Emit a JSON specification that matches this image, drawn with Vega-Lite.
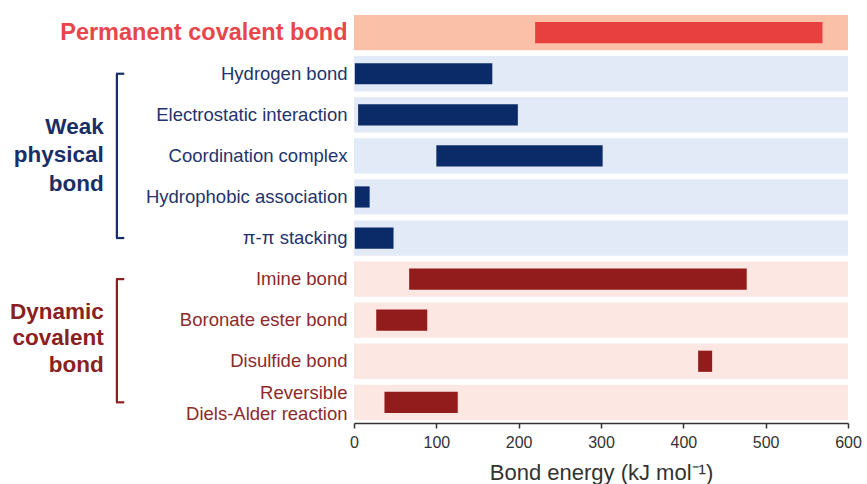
{
  "$schema": "https://vega.github.io/schema/vega-lite/v6.json",
  "width": 494,
  "height": 405,
  "autosize": {"type": "none"},
  "padding": {"left": 354, "top": 15, "right": 19, "bottom": 64},
  "background": "white",
  "config": {
    "font": "Liberation Sans",
    "view": {"stroke": null}
  },
  "datasets": {
    "bonds": [
      {"bond": "Permanent covalent bond", "group": "Permanent", "low": 220, "high": 569},
      {"bond": "Hydrogen bond", "group": "Weak", "low": 1, "high": 168},
      {"bond": "Electrostatic interaction", "group": "Weak", "low": 5, "high": 199},
      {"bond": "Coordination complex", "group": "Weak", "low": 100, "high": 302},
      {"bond": "Hydrophobic association", "group": "Weak", "low": 1, "high": 19},
      {"bond": "π-π stacking", "group": "Weak", "low": 1, "high": 48},
      {"bond": "Imine bond", "group": "Dynamic", "low": 67, "high": 477},
      {"bond": "Boronate ester bond", "group": "Dynamic", "low": 27, "high": 89},
      {"bond": "Disulfide bond", "group": "Dynamic", "low": 418, "high": 435},
      {"bond": "Reversible Diels-Alder reaction", "group": "Dynamic", "low": 37, "high": 126}
    ],
    "groups": [
      {"group": "Weak", "first": "Hydrogen bond", "last": "π-π stacking"},
      {"group": "Dynamic", "first": "Imine bond", "last": "Reversible Diels-Alder reaction"}
    ]
  },
  "layer": [
    {
      "data": {"name": "bonds"},
      "mark": {"type": "bar", "opacity": 1},
      "encoding": {
        "y": {
          "field": "bond", "type": "nominal",
          "scale": {
            "domain": ["Permanent covalent bond", "Hydrogen bond", "Electrostatic interaction", "Coordination complex", "Hydrophobic association", "π-π stacking", "Imine bond", "Boronate ester bond", "Disulfide bond", "Reversible Diels-Alder reaction"],
            "paddingInner": 0.14, "paddingOuter": 0
          },
          "axis": {
            "title": null, "domain": false, "ticks": false, "labelPadding": 7, "labelLimit": 400,
            "labelLineHeight": 21,
            "labelExpr": "datum.label == 'Reversible Diels-Alder reaction' ? ['Reversible', 'Diels-Alder reaction'] : datum.label",
            "labelOffset": {"condition": {"test": "datum.value == 'Reversible Diels-Alder reaction'", "value": -9}, "value": 0},
            "labelFontSize": {"condition": {"test": "datum.value == 'Permanent covalent bond'", "value": 23.5}, "value": 18.5},
            "labelFontWeight": {"condition": {"test": "datum.value == 'Permanent covalent bond'", "value": "bold"}, "value": "normal"},
            "labelColor": {"condition": [
              {"test": "datum.value == 'Permanent covalent bond'", "value": "#e8464a"},
              {"test": "indexof(['Imine bond','Boronate ester bond','Disulfide bond','Reversible Diels-Alder reaction'], datum.value) >= 0", "value": "#8d2a2a"}
            ], "value": "#23346c"}
          }
        },
        "x": {
          "datum": 0, "type": "quantitative",
          "scale": {"domain": [0, 600], "nice": false, "zero": false},
          "axis": {
            "values": [0, 100, 200, 300, 400, 500, 600],
            "title": "Bond energy (kJ mol⁻¹)",
            "offset": 3, "grid": false, "labelFlush": false,
            "domainColor": "#333333", "domainWidth": 1.5,
            "tickColor": "#333333", "tickWidth": 1.5, "tickSize": 5,
            "labelFontSize": 16, "labelColor": "#333333", "labelPadding": 6,
            "titleFontSize": 22, "titleFontWeight": "normal", "titleColor": "#333333", "titlePadding": 12
          }
        },
        "x2": {"datum": 600},
        "color": {
          "field": "group", "type": "nominal", "legend": null,
          "scale": {"domain": ["Permanent", "Weak", "Dynamic"], "range": ["#fbc0a8", "#e2eaf7", "#fde7e3"]}
        }
      }
    },
    {
      "data": {"name": "bonds"},
      "mark": {"type": "bar", "height": {"band": 0.6}},
      "encoding": {
        "y": {"field": "bond", "type": "nominal"},
        "x": {"field": "low", "type": "quantitative"},
        "x2": {"field": "high"},
        "color": {
          "field": "group", "type": "nominal", "legend": null,
          "scale": {"domain": ["Permanent", "Weak", "Dynamic"], "range": ["#e8403f", "#0b2a68", "#921b1b"]}
        }
      }
    },
    {
      "data": {"name": "groups"},
      "mark": {"type": "rule", "strokeWidth": 2.2},
      "encoding": {
        "y": {"field": "first", "type": "nominal"},
        "y2": {"field": "last"},
        "x": {"datum": -288, "type": "quantitative"},
        "color": {
          "field": "group", "type": "nominal", "legend": null,
          "scale": {"domain": ["Weak", "Dynamic"], "range": ["#1a2e66", "#8a2020"]}
        }
      }
    },
    {
      "data": {"name": "groups"},
      "mark": {"type": "rule", "strokeWidth": 2.2},
      "encoding": {
        "y": {"field": "first", "type": "nominal"},
        "x": {"datum": -289, "type": "quantitative"},
        "x2": {"datum": -279},
        "color": {
          "field": "group", "type": "nominal", "legend": null,
          "scale": {"domain": ["Weak", "Dynamic"], "range": ["#1a2e66", "#8a2020"]}
        }
      }
    },
    {
      "data": {"name": "groups"},
      "mark": {"type": "rule", "strokeWidth": 2.2},
      "encoding": {
        "y": {"field": "last", "type": "nominal"},
        "x": {"datum": -289, "type": "quantitative"},
        "x2": {"datum": -279},
        "color": {
          "field": "group", "type": "nominal", "legend": null,
          "scale": {"domain": ["Weak", "Dynamic"], "range": ["#1a2e66", "#8a2020"]}
        }
      }
    },
    {
      "data": {"values": [{"group": "Weak", "label": "Weak\nphysical\nbond", "row": "Coordination complex"}]},
      "mark": {"type": "text", "align": "right", "baseline": "middle", "fontSize": 22.5, "fontWeight": "bold", "lineBreak": "\n", "lineHeight": 28.5, "dy": -29, "color": "#1a2e66"},
      "encoding": {
        "y": {"field": "row", "type": "nominal"},
        "x": {"datum": -304, "type": "quantitative"},
        "text": {"field": "label"}
      }
    },
    {
      "data": {"values": [{"group": "Dynamic", "label": "Dynamic\ncovalent\nbond", "row": "Boronate ester bond"}]},
      "mark": {"type": "text", "align": "right", "baseline": "middle", "fontSize": 22.5, "fontWeight": "bold", "lineBreak": "\n", "lineHeight": 26.5, "dy": -29, "color": "#8a2020"},
      "encoding": {
        "y": {"field": "row", "type": "nominal", "bandPosition": 1.08},
        "x": {"datum": -304, "type": "quantitative"},
        "text": {"field": "label"}
      }
    }
  ],
  "resolve": {"scale": {"color": "independent"}}
}
